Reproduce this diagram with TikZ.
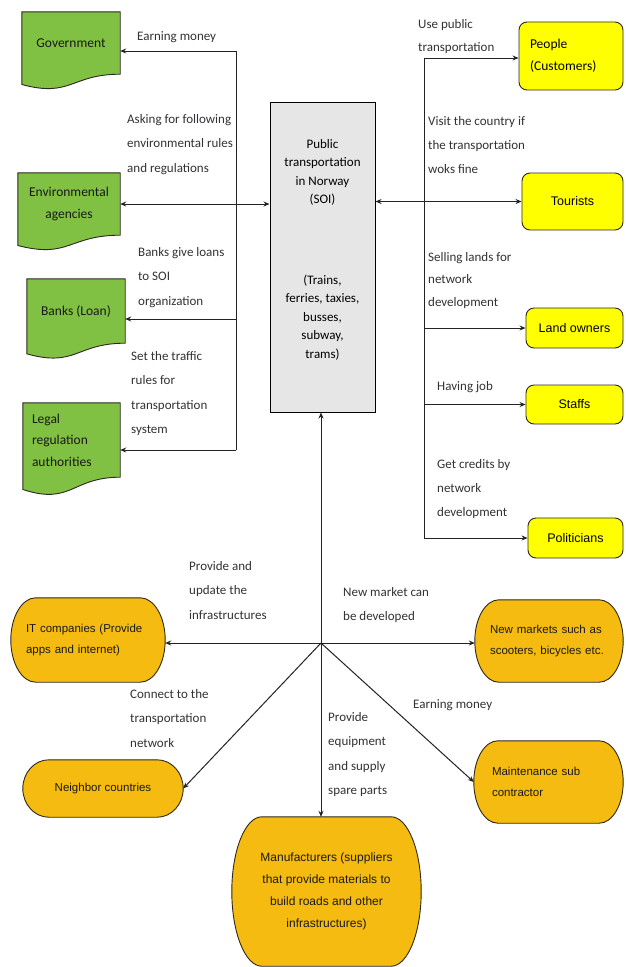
\documentclass[tikz,border=0pt]{standalone}
\usepackage{fontspec}
\setmainfont{Carlito}
\newfontfamily\arialf{Liberation Sans}
\usetikzlibrary{arrows.meta,calc,backgrounds}
\definecolor{docgreen}{RGB}{128,192,66}
\definecolor{yel}{RGB}{255,255,0}
\definecolor{org}{RGB}{246,187,16}
\definecolor{soigray}{RGB}{230,230,230}
\definecolor{lblc}{RGB}{50,50,55}
\definecolor{linec}{RGB}{35,35,35}
\definecolor{edgec}{RGB}{45,40,30}

\newcommand\docshape[1]{%
 \path[draw=edgec, line width=0.9pt, fill=docgreen] let \p1=(#1.north west), \p2=(#1.south east), \n1={\y1-\y2} in
 (\x1,\y1) -- (\x2,\y1) -- (\x2,\y2) .. controls ({(\x1+\x2)/2},\y2) and ({(\x1+\x2)/2},{\y2-0.38*\n1}) .. (\x1,{\y2-0.165*\n1}) -- cycle;}

\newcommand\termshape[2]{%
 \path[draw=edgec, line width=0.9pt, fill=org] let \p1=(#1.north west), \p2=(#1.south east), \n1={(\y1-\y2)/2} in
 ({\x1+#2pt},\y1) -- ({\x2-#2pt},\y1) arc[start angle=90, end angle=-90, x radius=#2pt, y radius=\n1] -- ({\x1+#2pt},\y2) arc[start angle=270, end angle=90, x radius=#2pt, y radius=\n1] -- cycle;}

\begin{document}
\begin{tikzpicture}[x=1pt,y=1pt,
  gdoc/.style={draw=none, inner sep=0, align=center, text=black!90, font=\fontsize{13.5}{21.5}\selectfont},
  soibox/.style={draw=black, line width=1pt, fill=soigray, inner sep=0},
  soitxt/.style={yshift=7.5pt, align=center, inner sep=0, font=\fontsize{13}{18.5}\selectfont},
  ybox/.style={draw=edgec, line width=0.9pt, fill=yel, rounded corners=8pt, inner sep=0, align=center, font=\arialf\fontsize{12.5}{15}\selectfont},
  obox/.style={draw=none, inner sep=0, align=left, text=black!90, font=\arialf\fontsize{11.5}{21.5}\selectfont},
  lbl/.style={anchor=north west, inner sep=0, align=left, text=lblc, font=\fontsize{13}{24.5}\selectfont},
  ln/.style={draw=linec, line width=1pt},
  arr/.style={ln, -{Stealth[length=6pt,width=5pt]}},
  darr/.style={ln, {Stealth[length=6pt,width=5pt]}-{Stealth[length=6pt,width=5pt]}}]
\useasboundingbox (0,0) rectangle (625,-967);

% left stakeholders (documents)
\node[gdoc, minimum width=98, minimum height=62] (gov) at (71,-43) {Government};
\node[gdoc, minimum width=102, minimum height=62] (env) at (69,-204) {Environmental\\agencies};
\node[gdoc, minimum width=98, minimum height=64] (banks) at (76,-311) {Banks (Loan)};
\node[gdoc, minimum width=97, minimum height=74, text width=79, align=left] (legal) at (71.5,-440) {Legal\\regulation\\authorities};

% system of interest
\node[soibox, minimum width=105, minimum height=310,
  label={[soitxt]center:{Public\\transportation\\in Norway\\(SOI)\\[62pt](Trains,\\ferries, taxies,\\busses,\\subway,\\trams)}}] (soi) at (322.5,-257) {};

% right stakeholders
\node[ybox, minimum width=104, minimum height=68, text width=82, align=left, font=\fontsize{13.5}{22}\selectfont] (people) at (571,-56) {People\\(Customers)};
\node[ybox, minimum width=101, minimum height=57] (tourists) at (572.5,-201.5) {Tourists};
\node[ybox, minimum width=97, minimum height=40] (land) at (574.5,-328) {Land owners};
\node[ybox, minimum width=97, minimum height=39] (staffs) at (574.5,-404.5) {Staffs};
\node[ybox, minimum width=95, minimum height=40] (pol) at (575.5,-538) {Politicians};

% bottom stakeholders
\node[obox, minimum width=154, minimum height=84, text width=124] (it) at (88,-640) {IT companies (Provide\\apps and internet)};
\node[obox, minimum width=148, minimum height=82, text width=118] (newm) at (549,-641) {New markets such as\\scooters, bicycles etc.};
\node[obox, minimum width=160, minimum height=57, align=center] (neigh) at (103,-788.5) {Neighbor countries};
\node[obox, minimum width=149, minimum height=82, text width=113] (maint) at (548.5,-782) {Maintenance sub\\contractor};
\node[obox, minimum width=189, minimum height=149, align=center, font=\arialf\fontsize{12}{22}\selectfont] (manu) at (326.5,-891.5) {Manufacturers (suppliers\\that provide materials to\\build roads and other\\infrastructures)};

\begin{scope}[on background layer]
  \fill[white] (0,0) rectangle (625,-967);
  \docshape{gov}
  \docshape{env}
  \docshape{banks}
  \docshape{legal}
  \termshape{it}{25}
  \termshape{newm}{24}
  \termshape{neigh}{26}
  \termshape{maint}{24}
  \termshape{manu}{30}
\end{scope}

% left bus
\coordinate (lt) at (236,-51);
\coordinate (lbank) at (236,-319);
\coordinate (lb) at (236,-450);
\draw[ln] (lt) -- (lb);
\draw[arr] (lt) -- (lt -| gov.east);
\draw[arr] (lbank) -- (lbank -| banks.east);
\draw[arr] (lb) -- (lb -| legal.east);
\draw[darr] (env.east) -- (env.east -| soi.west);

% right bus
\coordinate (rt) at (424,-58);
\coordinate (rb) at (424,-538);
\draw[ln] (rt) -- (rb);
\draw[arr] (rt) -- (rt -| people.west);
\draw[darr] (soi.east |- tourists.west) -- (tourists.west);
\draw[arr] (rt |- land.west) -- (land.west);
\draw[arr] (rt |- staffs.west) -- (staffs.west);
\draw[arr] (rb) -- (pol.west);

% hub
\coordinate (hub) at (321,-643);
\draw[arr] (hub) -- (hub |- soi.south);
\draw[arr] (hub) -- (hub -| it.east);
\draw[arr] (hub) -- (hub -| newm.west);
\draw[arr] (hub) -- (neigh.east);
\draw[arr] (hub) -- (maint.west);
\draw[arr] (hub) -- (hub |- manu.north);

% labels
\node[lbl] (l1) at (137,-31) {Earning money};
\node[lbl] (l2) at (127,-114) {Asking for following\\environmental rules\\and regulations};
\node[lbl] (l3) at (138,-247) {Banks give loans\\to SOI\\organization};
\node[lbl] (l4) at (131,-351) {Set the traffic\\rules for\\transportation\\system};
\node[lbl, font=\fontsize{13}{23.5}\selectfont] (l5) at (418,-19) {Use public\\transportation};
\node[lbl, font=\fontsize{13}{24}\selectfont] (l6) at (428,-116) {Visit the country if\\the transportation\\woks fine};
\node[lbl, font=\fontsize{13}{22.5}\selectfont] (l7) at (428,-252) {Selling lands for\\network\\development};
\node[lbl] (l8) at (437,-381) {Having job};
\node[lbl, font=\fontsize{13}{24}\selectfont] (l9) at (437,-459) {Get credits by\\network\\development};
\node[lbl] (l10) at (189,-561) {Provide and\\update the\\infrastructures};
\node[lbl] (l11) at (343,-587) {New market can\\be developed};
\node[lbl] (l12) at (130,-689) {Connect to the\\transportation\\network};
\node[lbl] (l13) at (413,-699) {Earning money};
\node[lbl] (l14) at (328,-712) {Provide\\equipment\\and supply\\spare parts};
\end{tikzpicture}
\end{document}
